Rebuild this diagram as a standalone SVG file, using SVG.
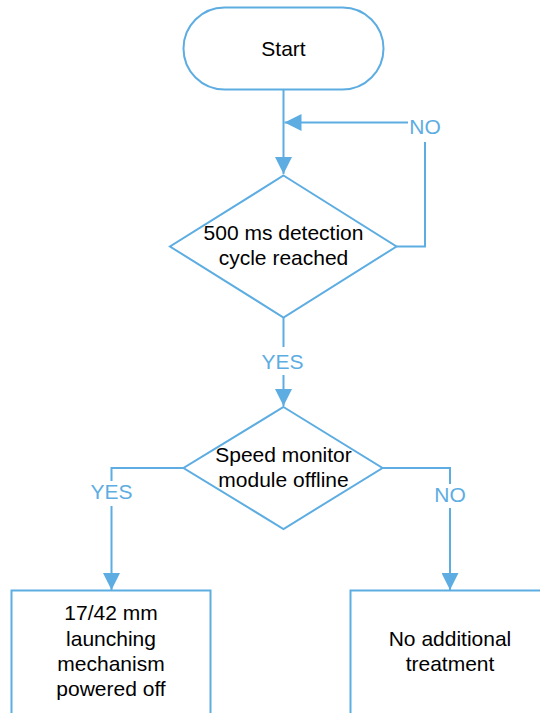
<svg xmlns="http://www.w3.org/2000/svg" width="540" height="713" viewBox="0 0 540 713">
  <defs>
    <style>
      .shape { fill: #ffffff; stroke: #5DADE2; stroke-width: 2; }
      .conn { fill: none; stroke: #5DADE2; stroke-width: 2; }
      .txt { font-family: "Liberation Sans", Arial, sans-serif; font-size: 21px; fill: #000000; text-anchor: middle; }
      .lbl { font-family: "Liberation Sans", Arial, sans-serif; font-size: 21px; fill: #5DADE2; text-anchor: middle; }
    </style>
    <marker id="arrow" viewBox="0 0 17 17" refX="17" refY="8.5" markerWidth="17" markerHeight="17" markerUnits="userSpaceOnUse" orient="auto">
      <path d="M0,0 L17,8.5 L0,17 z" fill="#5DADE2"/>
    </marker>
  </defs>
  <rect width="540" height="713" fill="#ffffff"/>

  <g id="connectors">
    <path class="conn" d="M283.5,90 V174" marker-end="url(#arrow)"/>
    <path class="conn" d="M396.5,246.5 H425 V142"/>
    <path class="conn" d="M408,122.5 H284.5" marker-end="url(#arrow)"/>
    <path class="conn" d="M283.5,317.5 V347"/>
    <path class="conn" d="M283.5,375 V406" marker-end="url(#arrow)"/>
    <path class="conn" d="M183.5,468 H111.5 V481"/>
    <path class="conn" d="M111.5,506 V590" marker-end="url(#arrow)"/>
    <path class="conn" d="M382.5,468 H450 V484"/>
    <path class="conn" d="M450,508 V590" marker-end="url(#arrow)"/>
    <text class="lbl" x="425" y="134">NO</text>
    <text class="lbl" x="282.5" y="369">YES</text>
    <text class="lbl" x="111.5" y="499">YES</text>
    <text class="lbl" x="450" y="502">NO</text>
  </g>

  <g id="start">
    <rect class="shape" x="183.5" y="7.5" width="200" height="82" rx="41" ry="41"/>
    <text class="txt" x="283.5" y="56">Start</text>
  </g>

  <g id="cycle-check">
    <polygon class="shape" points="283.5,175.5 396.5,246.5 283.5,317.5 170,246.5"/>
    <text class="txt" x="283.5" y="240">500 ms detection</text>
    <text class="txt" x="283.5" y="265">cycle reached</text>
  </g>

  <g id="speed-check">
    <polygon class="shape" points="283.5,407 382.5,468 283.5,529 183.5,468"/>
    <text class="txt" x="283.5" y="462">Speed monitor</text>
    <text class="txt" x="283.5" y="486.5">module offline</text>
  </g>

  <g id="power-off">
    <rect class="shape" x="11.5" y="590.5" width="199" height="124"/>
    <text class="txt" x="111" y="620">17/42 mm</text>
    <text class="txt" x="111" y="645.5">launching</text>
    <text class="txt" x="111" y="671">mechanism</text>
    <text class="txt" x="111" y="696">powered off</text>
  </g>

  <g id="no-treatment">
    <rect class="shape" x="350.5" y="590.5" width="200" height="124"/>
    <text class="txt" x="450" y="645.5">No additional</text>
    <text class="txt" x="450" y="671">treatment</text>
  </g>
</svg>
